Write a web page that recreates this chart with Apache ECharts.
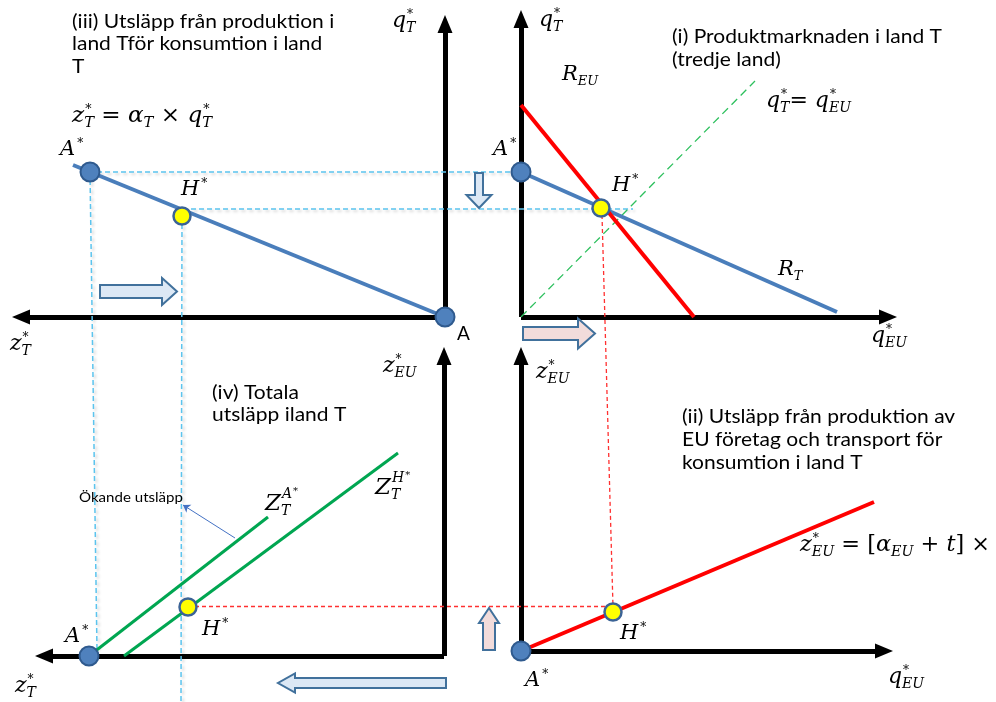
<!DOCTYPE html>
<html>
<head>
<meta charset="utf-8">
<script src="https://cdn.jsdelivr.net/npm/echarts@6/dist/echarts.min.js"></script>
<style>
  html, body { margin: 0; padding: 0; background: #ffffff; }
  #chart { width: 996px; height: 702px; }
</style>
</head>
<body>
<div id="chart"></div>
<script>
// ---------------------------------------------------------------
// Four-quadrant diagram: product market in country T and the
// emissions it causes. Each quadrant has its own value axes;
// 1 unit on every axis has the same length.
// ---------------------------------------------------------------

// (i) product market in T: x = q_EU, y = q_T
const marketRT   = [[0, 14.5], [31.6, 0.5]];   // R_T
const marketREU  = [[0, 21.2], [17.3, 0]];     // R_EU
const marketDiag = [[0, 0], [23.4, 23.6]];     // q_T = q_EU
const marketA    = [[0, 14.5]];
const marketH    = [[8.0, 10.9]];
// projections of A* and H* across to the left quadrant (q_EU < 0)
const guideAHor  = [[-43.2, 14.5], [0, 14.5]];
const guideHHor  = [[-33.8, 10.8], [11.2, 10.8]];

// (iii) emissions from production in T: x = z_T (to the left), y = q_T
const emisTLine  = [[37.2, 15.2], [0, 0]];
const emisTA     = [[35.5, 14.5]];
const emisTH     = [[26.3, 10.1]];
const emisTOrig  = [[0, 0]];
const guideAVer  = [[35.5, 14.5], [34.8, -33.3]];
const guideHVer  = [[26.3, 10.1], [26.4, -38.5]];

// (iv) total emissions in T: x = z_T (to the left), y = z_EU
const totalZA    = [[35.5, 0], [17.6, 13.9]];
const totalZH    = [[32.0, 0], [4.6, 20.3]];
const totalA     = [[35.5, 0]];
const totalH     = [[25.6, 4.9]];
const shiftNote  = [[20.9, 11.8], [26.1, 15.1]];

// (ii) emissions from EU production and transport: x = q_EU, y = z_EU
const euLine     = [[0, 0], [35.3, 14.9]];
const euA        = [[0, 0]];
const euH        = [[9.2, 3.9]];
const guideRedV  = [[8.1, 43.6], [9.2, 4.4]];
const guideRedH  = [[-33.3, 4.45], [9.2, 4.45]];

// Text blocks
const textI   = ['(i) Produktmarknaden i land T', '(tredje land)'];
const textII  = ['(ii) Utsläpp från produktion av', 'EU företag och transport för', 'konsumtion i land T'];
const textIII = ['(iii) Utsläpp från produktion i', 'land Tför konsumtion i land', 'T'];
const textIV  = ['(iv) Totala', 'utsläpp iland T'];
const noteText = 'Ökande utsläpp';

// ---------------------------------------------------------------
const SANS = 'Lato';
const SERIF = '"DejaVu Serif"';
const BLUE = '#4A7EBB';
const RED = '#FF0000';
const GREEN = '#00A651';

const chart = echarts.init(document.getElementById('chart'), null, { renderer: 'canvas' });
const ctx = document.createElement('canvas').getContext('2d');
function textWidth(str, font) { ctx.font = font; return ctx.measureText(str).width; }

// grids: 0 = (i), 1 = (iii), 2 = (iv), 3 = (ii)
const grids = [
  { left: 521, top: 19,  width: 367, height: 298 },
  { left: 21,  top: 24,  width: 424, height: 293 },
  { left: 44,  top: 356, width: 400, height: 300 },
  { left: 521, top: 356, width: 363, height: 295 }
];
const xMax = [36.7, 42.4, 40.0, 36.3];
const yMax = [29.8, 29.3, 30.0, 29.5];
const xInverse = [false, true, true, false];

function axisLine(sym) {
  return { show: true, onZero: false, symbol: sym, symbolSize: [15, 18],
           lineStyle: { color: '#000', width: 5, cap: 'butt' } };
}
const xAxes = grids.map((g, i) => ({
  type: 'value', gridIndex: i, min: 0, max: xMax[i], inverse: xInverse[i], position: 'bottom',
  axisLine: axisLine(xInverse[i] ? ['triangle', 'none'] : ['none', 'triangle']),
  axisTick: { show: false }, axisLabel: { show: false }, splitLine: { show: false }
}));
const yAxes = grids.map((g, i) => ({
  type: 'value', gridIndex: i, min: 0, max: yMax[i], position: xInverse[i] ? 'right' : 'left',
  axisLine: axisLine(['none', 'triangle']),
  axisTick: { show: false }, axisLabel: { show: false }, splitLine: { show: false }
}));

function line(idx, data, color, width, dash, z) {
  return { type: 'line', xAxisIndex: idx, yAxisIndex: idx, data, symbol: 'none', showSymbol: false,
           clip: false, silent: true, lineStyle: { color, width, type: dash || 'solid' }, z: z || 3 };
}
// dashed projection lines may run past the axis ranges, so they are drawn as plain segments
function guide(idx, coords, color, width, dash, shade) {
  const ls = { color, width, type: dash, opacity: 1, curveness: 0 };
  if (shade) Object.assign(ls, { shadowColor: 'rgba(0,0,0,' + shade + ')', shadowBlur: 3, shadowOffsetX: 2, shadowOffsetY: 2 });
  return { type: 'lines', coordinateSystem: 'cartesian2d', xAxisIndex: idx, yAxisIndex: idx,
           clip: false, silent: true, z: 2, symbol: ['none', 'none'], lineStyle: ls, data: [{ coords }] };
}
function dots(idx, data, kind) {
  const yellow = kind === 'H';
  return { type: 'scatter', xAxisIndex: idx, yAxisIndex: idx, data, clip: false, silent: true,
           symbol: 'circle', symbolSize: yellow ? 17 : 19, z: 6,
           itemStyle: { color: yellow ? '#FFFF00' : '#4F81BD', borderColor: yellow ? '#3B6396' : '#2F5A8E',
                        borderWidth: yellow ? 2.5 : 2, opacity: 1 } };
}

const LIGHTBLUE = '#5BC4EE';
const REDDASH = '#FF3030';
const series = [
  // projection lines
  guide(0, guideAHor, LIGHTBLUE, 1.5, [5, 3], 0.2),
  guide(0, guideHHor, LIGHTBLUE, 1.5, [5, 3], 0.2),
  guide(1, guideAVer, LIGHTBLUE, 1.5, [5, 3], 0.2),
  guide(1, guideHVer, LIGHTBLUE, 1.5, [5, 3], 0.2),
  guide(3, guideRedH, REDDASH, 1.3, [4, 3], 0),
  guide(3, guideRedV, REDDASH, 1.3, [4, 3], 0),
  line(0, marketDiag, '#2EC05E', 1.3, [8, 5], 2),
  // curves
  line(0, marketRT, BLUE, 4),
  line(0, marketREU, RED, 4),
  line(1, emisTLine, BLUE, 4),
  line(2, totalZA, GREEN, 3),
  line(2, totalZH, GREEN, 3),
  line(3, euLine, RED, 4),
  // points
  dots(0, marketA, 'A'), dots(0, marketH, 'H'),
  dots(1, emisTA, 'A'), dots(1, emisTH, 'H'), dots(1, emisTOrig, 'A'),
  dots(2, totalA, 'A'), dots(2, totalH, 'H'),
  dots(3, euA, 'A'), dots(3, euH, 'H'),
  // thin note arrow
  { type: 'lines', coordinateSystem: 'cartesian2d', xAxisIndex: 2, yAxisIndex: 2, silent: true, clip: false,
    symbol: ['none', 'arrow'], symbolSize: 7, z: 4,
    lineStyle: { color: '#4472C4', width: 1, opacity: 1, curveness: 0 },
    data: [{ coords: shiftNote }] }
];

// ---------- text helpers ----------
function mathLabel(x, y, tokens, size, targetWidth) {
  const children = [];
  let cx = 0;
  const small = Math.round(size * 0.62);
  tokens.forEach(tok => {
    if (typeof tok === 'string') tok = { b: tok, up: true };
    const font = (tok.up ? '' : 'italic ') + size + 'px ' + SERIF;
    children.push({ type: 'text', x: cx, y: 0, z: 100,
      style: { text: tok.b, font, fill: '#000', align: 'left', verticalAlign: 'middle' } });
    cx += textWidth(tok.b, font);
    let extra = 0;
    if (tok.sup) {
      const isStar = tok.sup === '*';
      const f = (isStar ? '' : 'italic ') + (isStar ? Math.round(size * 0.55) : small) + 'px ' + SERIF;
      const dx = tok.supDx != null ? tok.supDx : 1;
      children.push({ type: 'text', x: cx + dx, y: -size * (isStar ? 0.30 : 0.40), z: 100,
        style: { text: tok.sup, font: f, fill: '#000', align: 'left', verticalAlign: 'middle' } });
      let w = textWidth(tok.sup, f) + dx;
      if (tok.sup2) {
        const f2 = Math.round(size * 0.45) + 'px ' + SERIF;
        children.push({ type: 'text', x: cx + w + 1, y: -size * 0.55, z: 100,
          style: { text: tok.sup2, font: f2, fill: '#000', align: 'left', verticalAlign: 'middle' } });
        w += textWidth(tok.sup2, f2) + 1;
      }
      extra = Math.max(extra, w);
    }
    if (tok.sub) {
      const f = 'italic ' + small + 'px ' + SERIF;
      children.push({ type: 'text', x: cx, y: size * 0.32, z: 100,
        style: { text: tok.sub, font: f, fill: '#000', align: 'left', verticalAlign: 'middle' } });
      extra = Math.max(extra, textWidth(tok.sub, f));
    }
    cx += extra;
  });
  const g = { type: 'group', x, y, children, z: 100 };
  if (targetWidth) g.scaleX = targetWidth / cx;
  return g;
}

const BODY_FONT = '19px ' + SANS;
const bodyScale = 270 / textWidth(textI[0], BODY_FONT);
function textBlock(x, ys, lines, font, scale) {
  return lines.map((t, i) => ({ type: 'text', x, y: ys[i], scaleX: scale, z: 100,
    style: { text: t, font, fill: '#000', align: 'left', verticalAlign: 'middle' } }));
}
const NOTE_FONT = '14px ' + SANS;
const noteScale = 104 / textWidth(noteText, NOTE_FONT);

function blockArrow(tail, tip, bodyHalf, headHalf, headLen, fill) {
  const dx = tip[0] - tail[0], dy = tip[1] - tail[1];
  const len = Math.hypot(dx, dy), ux = dx / len, uy = dy / len, nx = -uy, ny = ux;
  const bx = tip[0] - ux * headLen, by = tip[1] - uy * headLen;
  const pts = [
    [tail[0] + nx * bodyHalf, tail[1] + ny * bodyHalf],
    [bx + nx * bodyHalf, by + ny * bodyHalf],
    [bx + nx * headHalf, by + ny * headHalf],
    [tip[0], tip[1]],
    [bx - nx * headHalf, by - ny * headHalf],
    [bx - nx * bodyHalf, by - ny * bodyHalf],
    [tail[0] - nx * bodyHalf, tail[1] - ny * bodyHalf]
  ];
  return { type: 'polygon', z: 50, shape: { points: pts },
           style: { fill, stroke: '#41719C', lineWidth: 2, lineJoin: 'miter' } };
}
const PALEBLUE = '#DCE8F5';
const PALEPINK = '#F2DCDB';

const qT = { b: 'q', sup: '*', sub: 'T' };
const qEU = { b: 'q', sup: '*', sub: 'EU' };
const zT = { b: 'z', sup: '*', sub: 'T' };
const zEU = { b: 'z', sup: '*', sub: 'EU' };
const Astar = { b: 'A', sup: '*', supDx: 2 };
const Hstar = { b: 'H', sup: '*', supDx: 2 };
const M = 22;   // size of lower-case math symbols
const C = 21;   // size of capital point labels

const graphics = [
  ...textBlock(72, [22, 44, 67], textIII, BODY_FONT, bodyScale),
  ...textBlock(672, [37, 60], textI, BODY_FONT, bodyScale),
  ...textBlock(682, [417, 440, 463], textII, BODY_FONT, bodyScale),
  ...textBlock(212, [393, 415], textIV, BODY_FONT, bodyScale),
  { type: 'text', x: 79, y: 497, z: 100, scaleX: noteScale,
    style: { text: noteText, font: NOTE_FONT, fill: '#000', verticalAlign: 'middle' } },
  { type: 'text', x: 457, y: 334, z: 100, style: { text: 'A', font: '19px ' + SANS, fill: '#000', verticalAlign: 'middle' } },

  mathLabel(392, 21, [qT], M),
  mathLabel(539, 20, [qT], M),
  mathLabel(562, 75, [{ b: 'R', sub: 'EU' }], C),
  mathLabel(766, 101, [qT, '= ', qEU], M),
  mathLabel(778, 270, [{ b: 'R', sub: 'T' }], C),
  mathLabel(871, 336, [qEU], M),
  mathLabel(10, 344, [zT], M),
  mathLabel(72, 116, [zT, ' = ', { b: 'α', sub: 'T' }, ' × ', qT], M, 140),
  mathLabel(60, 150, [Astar], C),
  mathLabel(181, 190, [Hstar], C),
  mathLabel(493, 150, [Astar], C),
  mathLabel(612, 186, [Hstar], C),
  mathLabel(383, 366, [zEU], M),
  mathLabel(536, 372, [zEU], M),
  mathLabel(265, 504, [{ b: 'Z', sup: 'A', sup2: '*', sub: 'T' }], 23),
  mathLabel(375, 488, [{ b: 'Z', sup: 'H', sup2: '*', sub: 'T' }], 23),
  mathLabel(202, 630, [Hstar], C),
  mathLabel(65, 637, [Astar], C),
  mathLabel(15, 686, [zT], M),
  mathLabel(525, 681, [Astar], C),
  mathLabel(620, 634, [Hstar], C),
  mathLabel(888, 677, [qEU], M),
  mathLabel(800, 545, [zEU, ' = [', { b: 'α', sub: 'EU' }, ' + ', { b: 't' }, '] ×'], M, 190),

  blockArrow([100, 291.5], [177, 291.5], 6.5, 13.5, 15, PALEBLUE),
  blockArrow([479, 173], [479, 208], 4, 12.5, 13, PALEBLUE),
  blockArrow([523, 333.5], [595, 333.5], 6.5, 15, 17, PALEPINK),
  blockArrow([446, 683], [278, 683], 5, 9.5, 17, PALEBLUE),
  blockArrow([489, 650], [489, 608], 6, 10, 15, PALEPINK)
];

chart.setOption({
  animation: false,
  backgroundColor: '#ffffff',
  grid: grids.map(g => Object.assign({ containLabel: false, show: false }, g)),
  xAxis: xAxes,
  yAxis: yAxes,
  series,
  graphic: { elements: graphics }
});
</script>
</body>
</html>
